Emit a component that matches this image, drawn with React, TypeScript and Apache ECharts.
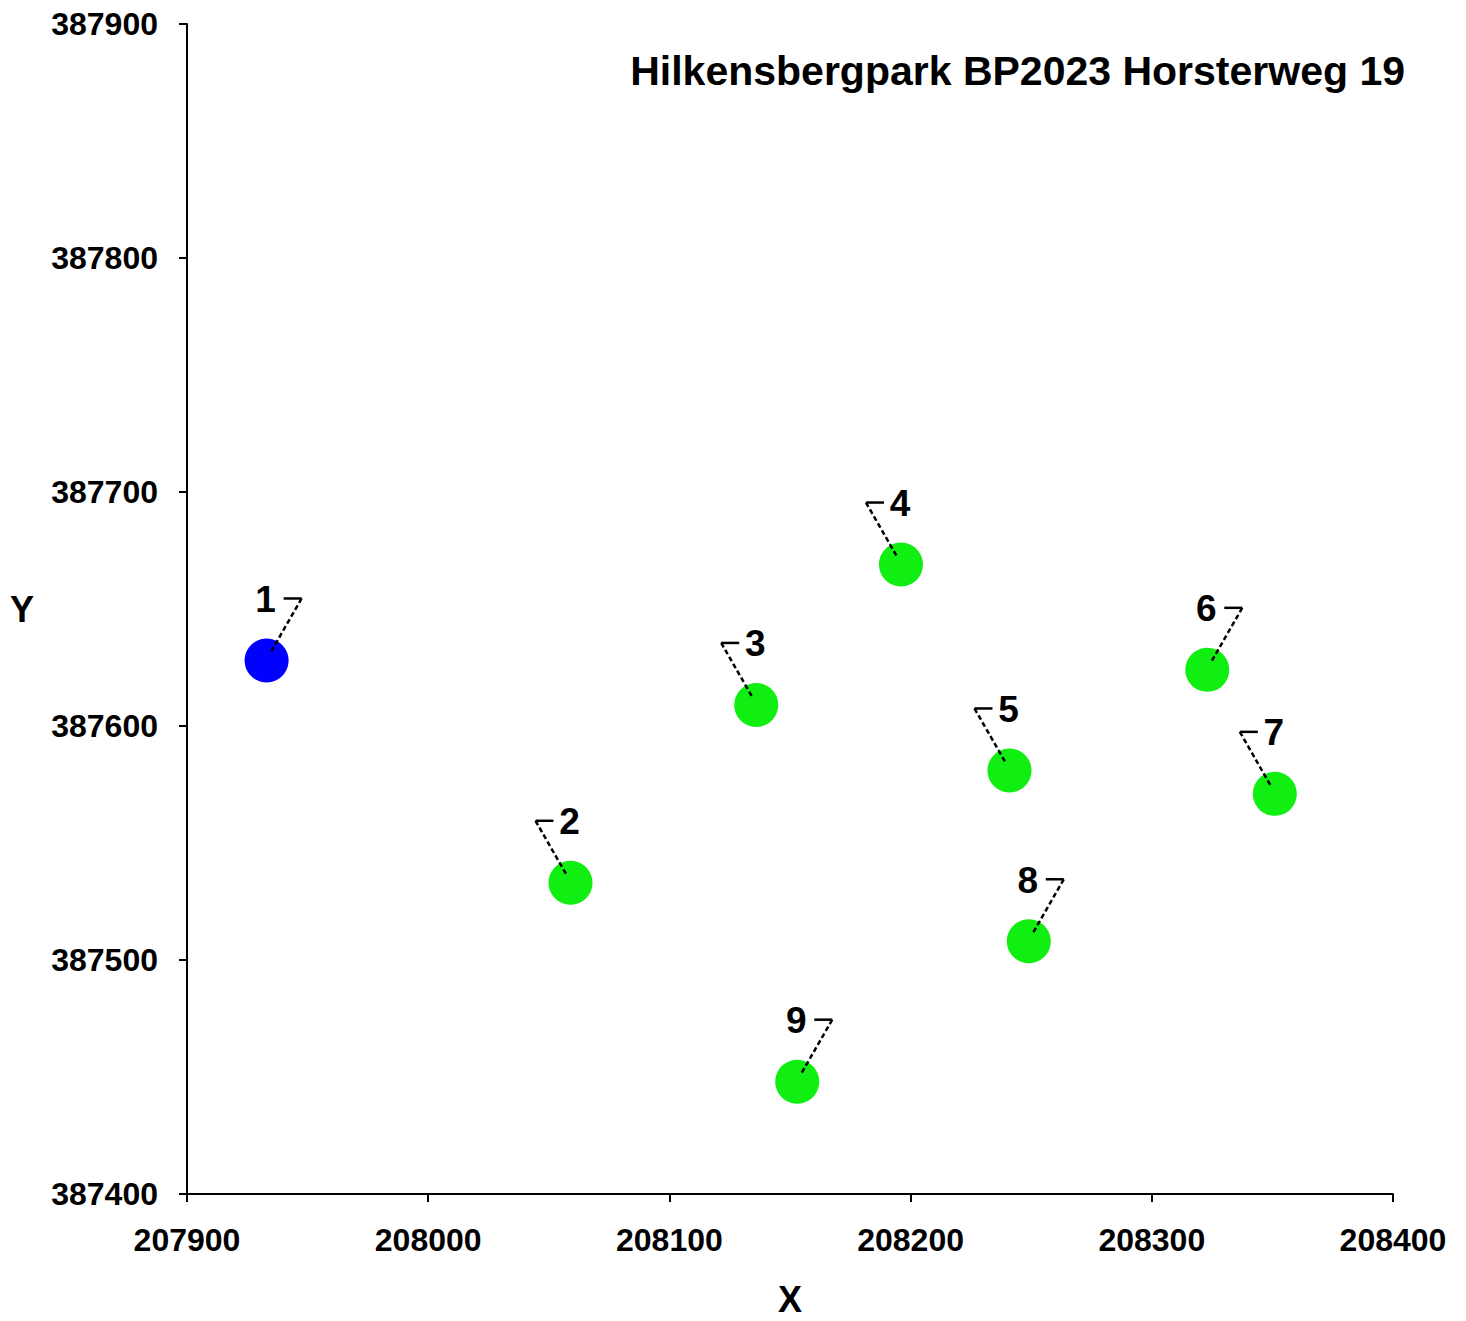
import React, { useEffect, useRef } from "react";
import * as echarts from "echarts";

const pointIds = ["1", "2", "3", "4", "5", "6", "7", "8", "9"];
const xValues = [207933, 208059, 208136, 208196, 208241, 208323, 208351, 208249, 208153];
const yValues = [387628, 387533, 387609, 387669, 387581, 387624, 387571, 387508, 387448];
const pointColors = ["#0000ff", "#11ee11", "#11ee11", "#11ee11", "#11ee11", "#11ee11", "#11ee11", "#11ee11", "#11ee11"];
const labelSides = ["right", "left", "left", "left", "left", "right", "left", "right", "right"];
const titleText = "Hilkensbergpark BP2023 Horsterweg 19";

const FONT = "'Liberation Sans', Arial, sans-serif";

export default function App() {
  const ref = useRef<HTMLDivElement>(null);
  useEffect(() => {
    if (!ref.current) return;
    const chart = echarts.init(ref.current, undefined, { renderer: "svg" });
    const pts = xValues.map((x, i) => ({
      value: [x, yValues[i]],
      itemStyle: { color: pointColors[i], opacity: 1 },
    }));
    const labelData = xValues.map((x, i) => [x, yValues[i], i]);
    chart.setOption({
      animation: false,
      backgroundColor: "#ffffff",
      title: {
        text: titleText,
        right: 61,
        top: 50,
        padding: 0,
        textStyle: { fontFamily: FONT, fontSize: 41, fontWeight: "bold", color: "#000" },
      },
      grid: { left: 187, right: 73, top: 24, bottom: 127, containLabel: false, outerBoundsMode: "none" },
      xAxis: {
        type: "value",
        min: 207900,
        max: 208400,
        interval: 100,
        name: "X",
        nameLocation: "middle",
        nameGap: 87,
        nameTextStyle: { fontFamily: FONT, fontSize: 36, fontWeight: "bold", color: "#000" },
        axisLine: { show: true, onZero: false, lineStyle: { color: "#000", width: 2 } },
        axisTick: { show: true, length: 8, lineStyle: { color: "#000", width: 2 } },
        axisLabel: {
          fontFamily: FONT, fontSize: 32, fontWeight: "bold", color: "#000", margin: 30,
          formatter: (v: number) => String(v),
        },
        splitLine: { show: false },
      },
      yAxis: {
        type: "value",
        min: 387400,
        max: 387900,
        interval: 100,
        name: "Y",
        nameLocation: "middle",
        nameRotate: 0,
        nameGap: 153,
        nameTextStyle: { fontFamily: FONT, fontSize: 36, fontWeight: "bold", color: "#000" },
        axisLine: { show: true, onZero: false, lineStyle: { color: "#000", width: 2 } },
        axisTick: { show: true, length: 8, lineStyle: { color: "#000", width: 2 } },
        axisLabel: {
          fontFamily: FONT, fontSize: 32, fontWeight: "bold", color: "#000", margin: 29,
          formatter: (v: number) => String(v),
        },
        splitLine: { show: false },
      },
      series: [
        {
          type: "scatter",
          data: pts,
          symbolSize: 44,
          z: 2,
        },
        {
          type: "custom",
          z: 3,
          data: labelData,
          renderItem: (params: any, api: any) => {
            const i = api.value(2);
            const p = api.coord([api.value(0), api.value(1)]);
            const side = labelSides[i];
            const dir = side === "right" ? 1 : -1;
            const cx = p[0] + dir * 35;
            const cy = p[1] - 62;
            const hx = p[0] + dir * 17;
            const ex = p[0] + dir * 4;
            const ey = p[1] - 8;
            return {
              type: "group",
              children: [
                {
                  type: "line",
                  shape: { x1: cx, y1: cy, x2: ex, y2: ey },
                  style: { stroke: "#000", lineWidth: 2.5, lineDash: [5, 3] },
                },
                {
                  type: "line",
                  shape: { x1: cx, y1: cy, x2: hx, y2: cy },
                  style: { stroke: "#000", lineWidth: 2.5 },
                },
                {
                  type: "text",
                  style: {
                    x: p[0] - 1,
                    y: p[1] - 61,
                    text: pointIds[i],
                    align: "center",
                    verticalAlign: "middle",
                    fontFamily: FONT,
                    fontSize: 37,
                    fontWeight: "bold",
                    fill: "#000",
                  },
                },
              ],
            };
          },
        },
      ],
    });
    return () => chart.dispose();
  }, []);
  return (
    <div
      ref={ref}
      style={{ position: "absolute", left: 0, top: 0, width: 1466, height: 1321 }}
    />
  );
}
